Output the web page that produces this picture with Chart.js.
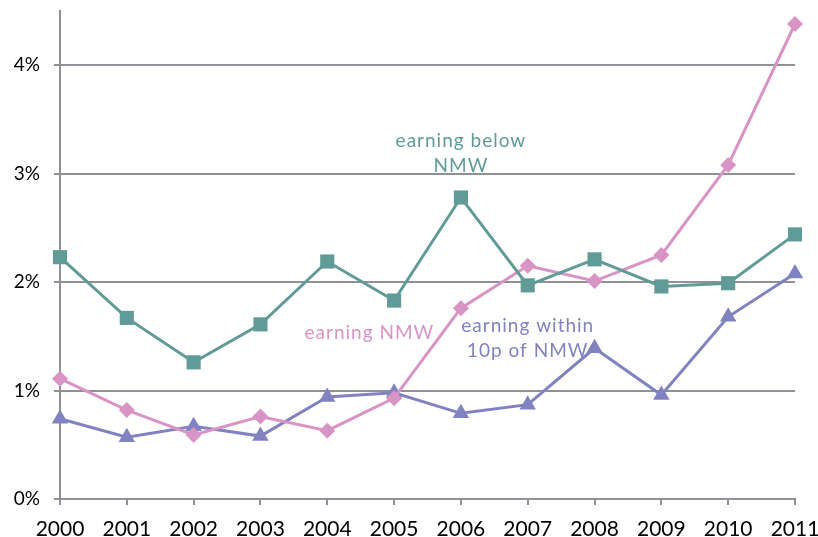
<!DOCTYPE html>
<html>
<head>
<meta charset="utf-8">
<script src="https://cdn.jsdelivr.net/npm/chart.js@4"></script>
<style>
  html, body { margin:0; padding:0; background:#fff; overflow:hidden; }
  #wrap { width:818px; height:537px; position:relative; }
</style>
</head>
<body>
<div id="wrap"><canvas id="chart"></canvas></div>
<script>
// data
const years = ['2000','2001','2002','2003','2004','2005','2006','2007','2008','2009','2010','2011'];
const belowNMW  = [2.23, 1.67, 1.26, 1.61, 2.19, 1.83, 2.78, 1.97, 2.21, 1.96, 1.99, 2.44];
const atNMW     = [1.11, 0.82, 0.59, 0.76, 0.63, 0.93, 1.76, 2.15, 2.01, 2.25, 3.08, 4.38];
const within10p = [0.74, 0.57, 0.67, 0.58, 0.94, 0.98, 0.79, 0.87, 1.39, 0.96, 1.68, 2.08];

const TEAL = '#619b97', PINK = '#d894c4', PURPLE = '#8083c0', GRID = '#8f9196';

// in-chart labels: [text lines, x index, y value of first line, colour]
const labels = [
  { lines:['earning below','NMW'], x:6, y:3.30, color:TEAL },
  { lines:['earning NMW'], x:4.63, y:1.535, color:PINK },
  { lines:['earning within','10p of NMW'], x:7, y:1.60, color:PURPLE },
];

const labelPlugin = {
  id:'labels',
  afterDatasetsDraw(chart){
    const { ctx, scales:{ x, y } } = chart;
    ctx.save();
    ctx.font = '19px Lato';
    ctx.letterSpacing = '1px';
    ctx.textAlign = 'center';
    ctx.textBaseline = 'middle';
    labels.forEach(l => {
      ctx.fillStyle = l.color;
      const px = x.getPixelForValue(l.x);
      const py = y.getPixelForValue(l.y);
      l.lines.forEach((t, i) => ctx.fillText(t, px, py + i * 25));
    });
    ctx.restore();
  }
};

const ds = (data, color, style, r) => ({
  data, borderColor:color, backgroundColor:color, borderWidth:3,
  pointStyle:style, pointRadius:r, pointHoverRadius:r, pointBorderWidth:0, tension:0
});

new Chart(document.getElementById('chart'), {
  type:'line',
  data:{
    labels: years,
    datasets:[
      ds(belowNMW, TEAL, 'rect', 10),
      ds(atNMW, PINK, 'rectRot', 8),
      ds(within10p, PURPLE, 'triangle', 9.5),
    ]
  },
  options:{
    responsive:true, maintainAspectRatio:false, animation:false,
    layout:{ padding:{ top:11, right:23, left:0, bottom:0 } },
    plugins:{ legend:{ display:false }, tooltip:{ enabled:false } },
    scales:{
      x:{
        offset:false,
        grid:{ drawOnChartArea:false, color:GRID, lineWidth:2, tickLength:6 },
        border:{ color:GRID, width:2 },
        ticks:{ color:'#000', font:{ family:'Lato', size:21 }, padding:12, maxRotation:0, autoSkip:false },
        afterFit(s){ s.paddingLeft = 0; s.paddingRight = 0; s.height = 38; }
      },
      y:{
        min:0, max:4.5,
        grid:{ color:GRID, lineWidth:2, tickLength:6 },
        border:{ color:GRID, width:2 },
        ticks:{ stepSize:1, color:'#000', font:{ family:'Lato', size:19 }, padding:14,
          callback:(v) => v + '%' },
        afterBuildTicks(s){ s.ticks = s.ticks.filter(t => Number.isInteger(t.value)); },
        afterFit(s){ s.paddingTop = 0; s.paddingBottom = 0; s.width = 60; }
      }
    }
  },
  plugins:[labelPlugin]
});
</script>
</body>
</html>
